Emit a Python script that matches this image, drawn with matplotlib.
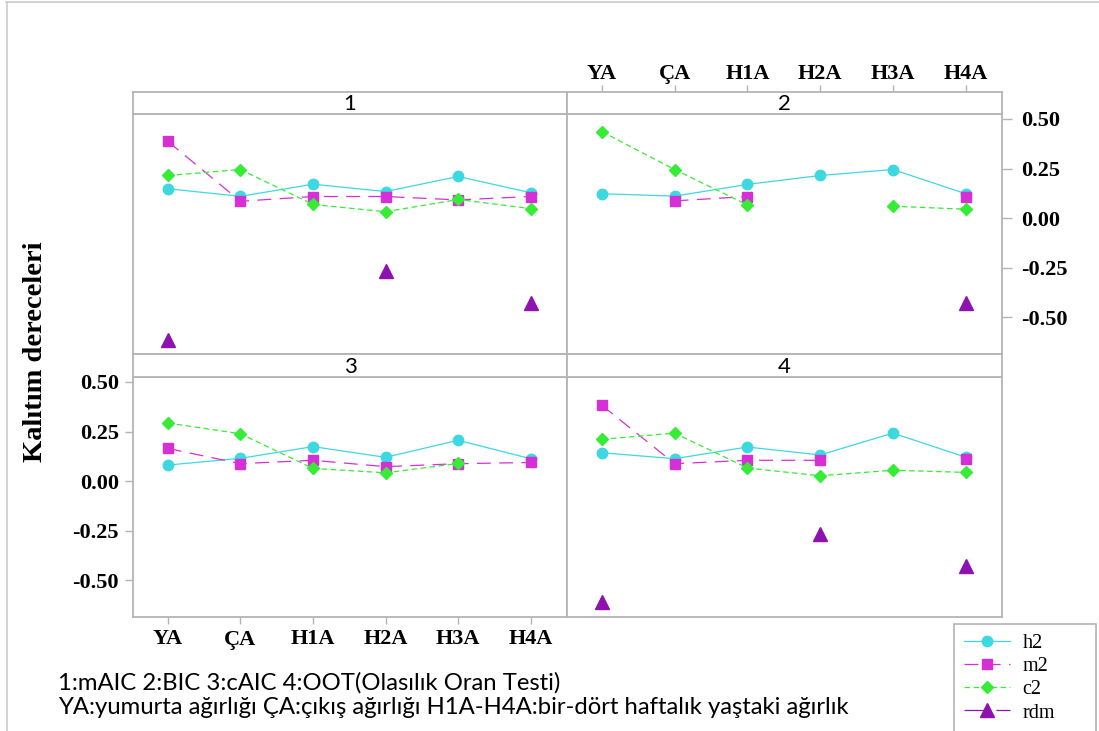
import numpy as np
import matplotlib
matplotlib.use("Agg")
import matplotlib.pyplot as plt
from matplotlib.lines import Line2D

plt.rcParams['lines.scale_dashes'] = False

categories = ["YA", "ÇA", "H1A", "H2A", "H3A", "H4A"]
panels = ["1", "2", "3", "4"]
nan = np.nan

h2 = {
    "1": [0.148, 0.110, 0.171, 0.134, 0.210, 0.128],
    "2": [0.123, 0.111, 0.170, 0.215, 0.245, 0.123],
    "3": [0.081, 0.115, 0.174, 0.120, 0.206, 0.113],
    "4": [0.143, 0.113, 0.172, 0.132, 0.242, 0.121],
}
m2 = {
    "1": [0.387, 0.085, 0.109, 0.109, 0.092, 0.109],
    "2": [nan, 0.087, 0.109, nan, nan, 0.108],
    "3": [0.165, 0.088, 0.105, 0.073, 0.088, 0.094],
    "4": [0.382, 0.088, 0.105, 0.105, nan, 0.113],
}
c2 = {
    "1": [0.215, 0.245, 0.069, 0.032, 0.094, 0.048],
    "2": [0.436, 0.245, 0.067, nan, 0.060, 0.045],
    "3": [0.293, 0.239, 0.064, 0.042, 0.089, nan],
    "4": [0.211, 0.242, 0.066, 0.027, 0.055, 0.044],
}
rdm = {
    "1": [-0.613, nan, nan, -0.268, nan, -0.430],
    "2": [nan, nan, nan, nan, nan, -0.430],
    "3": [nan, nan, nan, nan, nan, nan],
    "4": [-0.610, nan, nan, -0.267, nan, -0.426],
}
yticks = [-0.50, -0.25, 0.00, 0.25, 0.50]
ytick_labels = ["-0.50", "-0.25", "0.00", "0.25", "0.50"]

series = [
    ("h2", h2, dict(color="#3dd8e0", marker="o", ms=7.5, ls="-", lw=0.9)),
    ("m2", m2, dict(color="#d62fd6", marker="s", ms=7.5, ls=(0, (10, 6)), lw=0.9)),
    ("c2", c2, dict(color="#36ec36", marker="D", ms=6.5, ls=(0, (4, 2.5)), lw=0.9)),
    ("rdm", rdm, dict(color="#8e12b0", marker="^", ms=10.5, ls=(0, (14, 4, 1, 4)), lw=0.9)),
]

W, H = 1099, 731
fig = plt.figure(figsize=(W / 100, H / 100), dpi=100)

def rect(x0, y0, x1, y1):
    return [x0 / W, 1 - y1 / H, (x1 - x0) / W, (y1 - y0) / H]

GREY = "#b4b4b4"
serif = "Liberation Serif"
sans = "Lato"
tickfont = dict(fontfamily=serif, fontweight="bold", fontsize=16)

# outer frame
fig.add_artist(Line2D([6 / W, 1], [1 - 1.5 / H, 1 - 1.5 / H], color="#cccccc", lw=1.2))
fig.add_artist(Line2D([6.5 / W, 6.5 / W], [0, 1 - 1.5 / H], color="#cccccc", lw=1.2))

xcols = [(133, 567), (567, 1002)]
rows = [((92, 114), (114, 354)), ((354, 377), (377, 617))]
xs = np.arange(len(categories))
xlim = (-0.48, 5.5)
ylim = (-0.685, 0.525)

for i, p in enumerate(panels):
    r, c = divmod(i, 2)
    (sy0, sy1), (py0, py1) = rows[r]
    x0, x1 = xcols[c]
    ax = fig.add_axes(rect(x0, py0, x1, py1))
    sax = fig.add_axes(rect(x0, sy0, x1, sy1))
    for a in (ax, sax):
        for s in a.spines.values():
            s.set_color(GREY)
            s.set_linewidth(1.3)
        a.set_xlim(*xlim)
        a.tick_params(colors=GREY, length=0, labelcolor="black")
        a.set_xticks([])
        a.set_yticks([])
    sax.text(0.5, 0.45, p, transform=sax.transAxes, ha="center", va="center",
             fontsize=16, family=sans)
    ax.set_ylim(*ylim)
    for name, data, st in series:
        ax.plot(xs, data[p], color=st["color"], marker=st["marker"], ms=st["ms"],
                ls=st["ls"], lw=st["lw"], mec=st["color"], clip_on=False)
    if p == "2":
        sax.tick_params(axis="x", top=True, bottom=False, labeltop=True, labelbottom=False,
                        length=5, width=1, color=GREY, pad=1)
        sax.set_xticks(xs)
        sax.set_xticklabels(categories, **tickfont)
        ax.yaxis.tick_right()
        ax.tick_params(axis="y", right=True, left=False, length=7, width=1, color=GREY,
                       pad=7)
        ax.set_yticks(yticks)
        ax.set_yticklabels(ytick_labels, **tickfont)
    if p == "3":
        ax.tick_params(axis="x", bottom=True, length=5, width=1, color=GREY, pad=4)
        ax.set_xticks(xs)
        ax.set_xticklabels(categories, **tickfont)
        ax.tick_params(axis="y", left=True, length=6, width=1, color=GREY, pad=4)
        ax.set_yticks(yticks)
        ax.set_yticklabels(ytick_labels, **tickfont)

fig.text(36 / W, 1 - 352 / H, "Kalıtım dereceleri", rotation=90, ha="center", va="center",
         fontsize=20.5, fontweight="bold", family=serif)

fig.text(58 / W, 1 - 683 / H, "1:mAIC 2:BIC 3:cAIC 4:OOT(Olasılık Oran Testi)",
         ha="left", va="center", fontsize=17.2, family=sans)
fig.text(58 / W, 1 - 708 / H,
         "YA:yumurta ağırlığı ÇA:çıkış ağırlığı H1A-H4A:bir-dört haftalık yaştaki ağırlık",
         ha="left", va="center", fontsize=17.2, family=sans)

handles = [Line2D([], [], color=st["color"], marker=st["marker"], ms=st["ms"],
                  ls=st["ls"], lw=st["lw"]) for _, _, st in series]
labels = [n for n, _, _ in series]
leg = fig.legend(handles, labels, loc="upper left",
                 bbox_to_anchor=(954 / W, 1 - 728 / H, 142 / W, 104 / H), mode="expand",
                 frameon=True, fancybox=False, edgecolor=GREY, framealpha=1,
                 prop={"family": serif, "size": 14.5}, handlelength=2.3, borderpad=0.5,
                 labelspacing=0.2, handletextpad=0.6, borderaxespad=0)
leg.get_frame().set_linewidth(1.2)

fig.savefig("out.png", dpi=100)
